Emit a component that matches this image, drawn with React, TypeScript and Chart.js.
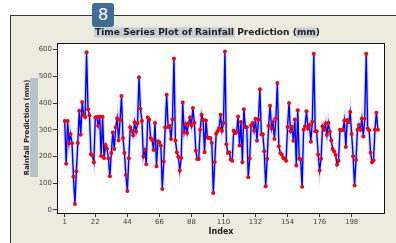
import React, { useEffect, useRef } from "react";
import { Chart, registerables } from "chart.js";

Chart.register(...registerables);

const rainfall: number[] = [
  333, 173, 333, 249, 284, 249, 124, 22, 144, 250, 371, 281, 404, 355, 348, 590, 377, 354, 208, 203, 178, 346,
  348, 315, 349, 202, 349, 194, 243, 229, 193, 126, 213, 290, 228, 309, 343, 260, 336, 426, 269, 213, 130, 70,
  193, 309, 295, 279, 328, 293, 324, 497, 379, 333, 200, 224, 171, 346, 338, 269, 262, 224, 325, 163, 257, 253,
  240, 78, 181, 308, 431, 310, 314, 265, 339, 567,
  260, 216, 199, 147, 194, 402, 291, 321, 288, 324, 346, 316, 381, 326, 221, 190, 190,
  300, 356, 337, 216, 335, 271, 269, 269, 250, 63, 179, 285, 294, 306, 356, 296, 325, 593, 246, 213, 216, 188,
  184, 296, 287, 291, 350, 241, 329, 178, 377, 309, 309, 122,
  192, 316, 325, 296, 341, 259, 337, 452, 282, 283, 219, 88, 191, 315, 390, 305, 330, 265, 343, 475, 238, 213,
  207, 194, 191, 184, 310, 400, 294, 310, 259, 338, 166, 373, 191, 189, 86, 300, 313, 369, 305, 318, 255, 330,
  585, 294, 294, 207, 147, 191, 313, 300, 323, 280, 326, 292, 260, 228, 218, 205, 169, 184, 300, 298, 298, 335,
  235, 336, 328, 366, 284, 201, 91, 187, 300, 318, 300, 341, 275, 341, 585, 305, 298, 214, 178, 186, 300, 364, 300,
];

const xTickValues: number[] = [1, 22, 44, 66, 88, 110, 132, 154, 176, 198];
const yTickValues: number[] = [0, 100, 200, 300, 400, 500, 600];

const titleText = "Time Series Plot of Rainfall Prediction (mm)";
const titleMark1 = "Time Series Plot of Rainfall";
const titleMark2 = "mm";
const yAxisLabel = "Rainfall Prediction (mm)";
const xAxisLabel = "Index";
const badgeText = "8";

const FONT = '"DejaVu Sans", "Liberation Sans", Arial, sans-serif';

function fitFont(ctx: CanvasRenderingContext2D, text: string, target: number, weight: string) {
  ctx.font = `${weight} 10px ${FONT}`;
  const w = ctx.measureText(text).width;
  const size = (10 * target) / w;
  ctx.font = `${weight} ${size}px ${FONT}`;
  return size;
}

const decorPlugin = {
  id: "decor",
  beforeDraw(chart: any) {
    const ctx: CanvasRenderingContext2D = chart.ctx;
    const { left, top, right, bottom } = chart.chartArea;
    ctx.save();
    ctx.fillStyle = "#ffffff";
    ctx.fillRect(0, 0, chart.width, chart.height);
    ctx.fillStyle = "#EDEAE0";
    ctx.fillRect(10, 15, chart.width, chart.height);
    ctx.strokeStyle = "#3a3a3a";
    ctx.lineWidth = 1;
    ctx.strokeRect(10.5, 15.5, chart.width + 10, chart.height + 10);
    ctx.fillStyle = "#ffffff";
    ctx.fillRect(left, top, right - left, bottom - top);

    // title
    fitFont(ctx, titleText, 225, "bold");
    const fullW = ctx.measureText(titleText).width;
    const tx = 207.5 - fullW / 2;
    const w1 = ctx.measureText(titleMark1).width;
    const i2 = titleText.lastIndexOf(titleMark2);
    const pre2 = ctx.measureText(titleText.slice(0, i2)).width;
    const w2 = ctx.measureText(titleMark2).width;
    ctx.fillStyle = "#C4CED6";
    ctx.fillRect(tx - 1, 27.5, w1 + 2, 10);
    ctx.fillRect(tx + pre2 - 1, 27.5, w2 + 2, 10);
    ctx.fillStyle = "#222";
    ctx.textAlign = "left";
    ctx.textBaseline = "middle";
    ctx.fillText(titleText, tx, 33);

    // y axis label
    ctx.fillStyle = "#B6C3CD";
    ctx.fillRect(30, 78, 8, 99);
    ctx.save();
    ctx.translate(27, 127.5);
    ctx.rotate(-Math.PI / 2);
    fitFont(ctx, yAxisLabel, 96, "bold");
    ctx.textAlign = "center";
    ctx.textBaseline = "middle";
    ctx.fillStyle = "#222";
    ctx.fillText(yAxisLabel, 0, 0);
    ctx.restore();

    // x axis label
    fitFont(ctx, xAxisLabel, 25, "bold");
    ctx.textAlign = "center";
    ctx.textBaseline = "middle";
    ctx.fillStyle = "#222";
    ctx.fillText(xAxisLabel, (left + right) / 2, 232);
    ctx.restore();
  },
  beforeDatasetsDraw(chart: any) {
    const ctx: CanvasRenderingContext2D = chart.ctx;
    const { left, top, right, bottom } = chart.chartArea;
    ctx.save();
    ctx.strokeStyle = "#111";
    ctx.lineWidth = 1;
    ctx.strokeRect(left + 0.5, top + 0.5, right - left - 1, bottom - top);
    ctx.restore();
  },
};

export default function App() {
  const ref = useRef<HTMLCanvasElement | null>(null);

  useEffect(() => {
    if (!ref.current) return;
    const points = rainfall.map((v, i) => ({ x: i + 1, y: v }));
    const tickFont = { family: FONT, size: 7 };
    const chart = new Chart(ref.current, {
      type: "line",
      data: {
        datasets: [
          {
            data: points,
            borderColor: "#0000FF",
            borderWidth: 1.4,
            pointRadius: 2,
            pointBackgroundColor: "#FF0000",
            pointBorderWidth: 0,
            tension: 0,
            order: 0,
          },
          {
            data: points,
            borderColor: "rgba(70,90,255,0.22)",
            borderWidth: 3.5,
            pointRadius: 0,
            tension: 0,
            order: 1,
          },
        ],
      },
      options: {
        animation: false,
        responsive: false,
        devicePixelRatio: 1,
        layout: { padding: { top: 43, right: 11, left: 0, bottom: 0 } },
        plugins: {
          legend: { display: false },
          tooltip: { enabled: false },
          title: { display: false },
        },
        scales: {
          x: {
            type: "linear",
            min: -4.3,
            max: 220.9,
            afterBuildTicks: (s: any) => {
              s.ticks = xTickValues.map((v) => ({ value: v }));
            },
            afterFit: (s: any) => {
              s.height = 30;
            },
            grid: { display: true, drawOnChartArea: false, drawTicks: true, tickLength: 4, color: "#333" },
            border: { display: false },
            ticks: { autoSkip: false, maxRotation: 0, padding: 1, color: "#444", font: tickFont },
          },
          y: {
            type: "linear",
            min: -12,
            max: 625,
            afterBuildTicks: (s: any) => {
              s.ticks = yTickValues.map((v) => ({ value: v }));
            },
            afterFit: (s: any) => {
              s.width = 57;
            },
            grid: { display: true, drawOnChartArea: false, drawTicks: true, tickLength: 4, color: "#333" },
            border: { display: false },
            ticks: { autoSkip: false, padding: 1, color: "#444", font: tickFont },
          },
        },
      },
      plugins: [decorPlugin],
    } as any);
    return () => chart.destroy();
  }, []);

  return (
    <div style={{ position: "fixed", left: 0, top: 0, width: 396, height: 243, background: "#fff" }}>
      <canvas ref={ref} width={396} height={243} style={{ width: 396, height: 243, display: "block" }} />
      <div
        style={{
          position: "absolute",
          left: 92,
          top: 3,
          width: 22,
          height: 24,
          background: "#3D6D94",
          borderRadius: 3,
          color: "#fff",
          fontFamily: FONT,
          fontSize: 16,
          lineHeight: "24px",
          textAlign: "center",
        }}
      >
        {badgeText}
      </div>
    </div>
  );
}
